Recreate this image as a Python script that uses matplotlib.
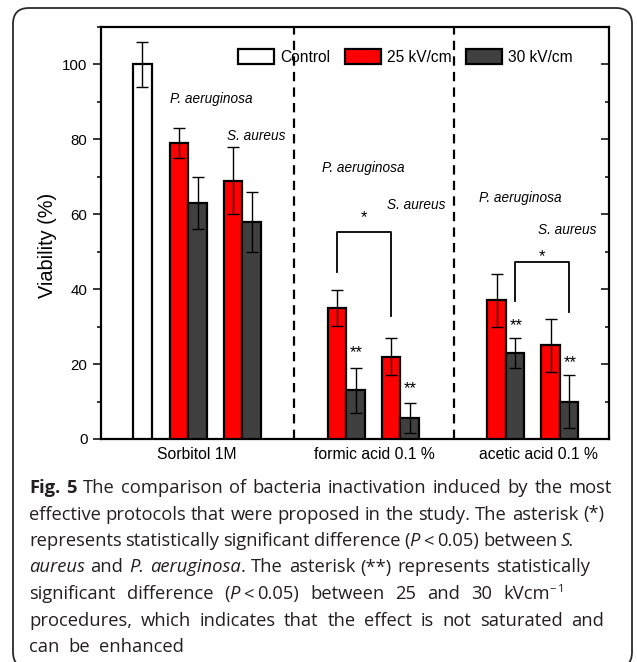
import matplotlib
matplotlib.use("Agg")
import matplotlib.pyplot as plt
from matplotlib.patches import Patch, FancyBboxPatch
from matplotlib.ticker import MultipleLocator
from matplotlib.transforms import IdentityTransform

# ---------------- data ----------------
categories = ["Sorbitol 1M", "formic acid 0.1 %", "acetic acid 0.1 %"]
control_value = [100]
control_err = [6]
pa_25 = [79, 35, 37]
pa_25_err = [4, 4.8, 7]
pa_30 = [63, 13, 23]
pa_30_err = [7, 6, 4]
sa_25 = [69, 22, 25]
sa_25_err = [9, 5, 7]
sa_30 = [58, 5.5, 10]
sa_30_err = [8, 4, 7]
legend_labels = ["Control", "25 kV/cm", "30 kV/cm"]
species = ["P. aeruginosa", "S. aureus"]
y_ticks = [0, 20, 40, 60, 80, 100]

# ---------------- style ----------------
W, H = 637, 662
plt.rcParams["font.family"] = ["Liberation Sans", "DejaVu Sans"]
RED = "#ff0000"
DARK = "#404040"

fig = plt.figure(figsize=(W / 100, H / 100), dpi=100)
fig.patch.set_facecolor("white")

# frame around the whole figure (rounded box)
frame = FancyBboxPatch((13, -6), 619, H - 8 + 6, boxstyle="round,pad=0,rounding_size=16",
                       transform=IdentityTransform(), facecolor="none", edgecolor="#2a2a2a",
                       linewidth=1.3, zorder=0)
fig.patches.append(frame)

ax_l, ax_r, ax_t, ax_b = 101, 609, 27, 439
ax = fig.add_axes([ax_l / W, 1 - ax_b / H, (ax_r - ax_l) / W, (ax_b - ax_t) / H])

bw = 1.0
xmax = (ax_r - ax_l) / 18.5
ax.set_xlim(0, xmax)
ax.set_ylim(0, 110)

ctrl_x = [2.24]
pa_red_x = [4.22, 12.76, 21.38]
pair_gap = 2.92
pa_dark_x = [x + bw for x in pa_red_x]
sa_red_x = [x + pair_gap for x in pa_red_x]
sa_dark_x = [x + bw for x in sa_red_x]
cat_x = [5.19, 14.76, 23.62]
sep_x = [10.43, 19.08]

bar_kw = dict(width=bw, edgecolor="black", linewidth=1.6, zorder=3)
err_kw = dict(ecolor="black", elinewidth=1.0, capsize=4.2, capthick=1.0)

ax.bar(ctrl_x, control_value, color="white", yerr=control_err, error_kw=err_kw, label=legend_labels[0], **bar_kw)
ax.bar(pa_red_x, pa_25, color=RED, yerr=pa_25_err, error_kw=err_kw, label=legend_labels[1], **bar_kw)
ax.bar(pa_dark_x, pa_30, color=DARK, yerr=pa_30_err, error_kw=err_kw, label=legend_labels[2], **bar_kw)
ax.bar(sa_red_x, sa_25, color=RED, yerr=sa_25_err, error_kw=err_kw, **bar_kw)
ax.bar(sa_dark_x, sa_30, color=DARK, yerr=sa_30_err, error_kw=err_kw, **bar_kw)

for sx in sep_x:
    ax.axvline(sx, color="black", linewidth=1.6, linestyle=(0, (4.2, 2.8)), zorder=2)

# spines & ticks
for s in ax.spines.values():
    s.set_linewidth(1.6)
ax.set_xticks(cat_x)
ax.set_xticklabels(categories, fontsize=11.3)
ax.tick_params(axis="x", length=0, pad=6)
ax.set_yticks(y_ticks)
ax.yaxis.set_minor_locator(MultipleLocator(10))
ax.tick_params(axis="y", which="major", direction="out", length=5.8, width=1.1, labelsize=10.8, pad=4)
ax.tick_params(axis="y", which="minor", direction="out", length=3, width=1.1)

ax2 = ax.twinx()
ax2.set_ylim(ax.get_ylim())
ax2.set_yticks(y_ticks)
ax2.yaxis.set_minor_locator(MultipleLocator(10))
ax2.tick_params(axis="y", which="major", direction="in", length=5.8, width=1.1, labelright=False)
ax2.tick_params(axis="y", which="minor", direction="in", length=3, width=1.1)
for s in ax2.spines.values():
    s.set_visible(False)

ax.set_ylabel("Viability (%)", fontsize=14.3)
ax.yaxis.set_label_coords((57 - ax_l) / (ax_r - ax_l), (ax_b - 245) / (ax_b - ax_t))

# legend
handles = [Patch(facecolor=c, edgecolor="black", linewidth=1.6) for c in ["white", RED, DARK]]
ax.legend(handles, legend_labels, loc="center left",
          bbox_to_anchor=((238 - ax_l) / (ax_r - ax_l), (ax_b - 57) / (ax_b - ax_t)),
          ncol=3, frameon=False, fontsize=11.2, borderpad=0, borderaxespad=0,
          handlelength=2.3, handleheight=1.15, handletextpad=0.4, columnspacing=0.95)

# species annotations
sp_pos_pa = [(5.95, 90.7), (14.16, 72.3), (22.65, 64.3)]
sp_pos_sa = [(8.4, 81.0), (17.03, 62.4), (25.19, 55.7)]
for (x, y) in sp_pos_pa:
    ax.text(x, y, species[0], style="italic", fontsize=9.8, ha="center", va="center")
for (x, y) in sp_pos_sa:
    ax.text(x, y, species[1], style="italic", fontsize=9.8, ha="center", va="center")

# significance brackets
def bracket(x1, x2, y1, y2, ytop, ystar):
    ax.plot([x1, x1, x2, x2], [y1, ytop, ytop, y2], color="black", linewidth=1.3, zorder=4)
    ax.text((x1 + x2) / 2, ystar, "*", ha="center", va="baseline", fontsize=12)

bracket(pa_red_x[1], sa_red_x[1], 44.5, 32.8, 55.2, 58.0)
bracket(pa_dark_x[2], sa_dark_x[2], 36.8, 33.8, 47.3, 47.6)

dstar = [(pa_dark_x[1], 21.8), (sa_dark_x[1], 12.2), (pa_dark_x[2], 29.2), (sa_dark_x[2], 19.1)]
for x, y in dstar:
    ax.text(x + 0.05, y, "**", ha="center", va="baseline", fontsize=12)

# ---------------- caption (justified) ----------------
CAP_FONT = ["Open Sans", "DejaVu Sans"]
cap_color = "#231f20"
cap_size = 13.2
N, I, B, S = "n", "i", "b", "sup"

def G(px):
    return ("", ("gap", px))

cap_lines = [
    ([[("Fig.", B)], [("5", B)], "The", "comparison", "of", "bacteria", "inactivation", "induced", "by", "the", "most"], 29, 612, 493),
    (["effective", "protocols", "that", "were", "proposed", "in", "the", "study.", "The", "asterisk", "(*)"], 29, 604, 519.5),
    (["represents", "statistically", "significant", "difference",
      [("(", N), ("P", I), G(3), ("<", N), G(4), ("0.05)", N)], "between", [("S.", I)]], 29, 575, 546),
    ([[("aureus", I)], "and", [("P.", I)], [("aeruginosa", I), (".", N)], "The", "asterisk", "(**)", "represents", "statistically"], 29, 590, 572.5),
    (["significant", "difference", [("(", N), ("P", I), G(3), ("<", N), G(4), ("0.05)", N)], "between", "25", "and", "30",
      [("kVcm", N), ("\u2212", S), G(2), ("1", S)]], 29, 565, 599),
    (["procedures,", "which", "indicates", "that", "the", "effect", "is", "not", "saturated", "and"], 29, 604, 625.5),
    (["can", "be", "enhanced"], 29, 184, 652),
]

renderer = fig.canvas.get_renderer()

def make_run(text, style, size):
    kw = dict(family=CAP_FONT, color=cap_color, fontsize=size, va="baseline", ha="left",
              transform=IdentityTransform())
    if style == I:
        kw["style"] = "italic"
    if style == B:
        kw["weight"] = "bold"
    if style == S:
        kw["fontsize"] = size * 0.62
    return fig.text(0, 0, text, **kw)

def build_word(word, size):
    if isinstance(word, str):
        word = [(word, N)]
    items = []
    total = 0
    for text, style in word:
        if isinstance(style, tuple):
            items.append((None, total, style[1]))
            total += style[1]
            continue
        t = make_run(text, style, size)
        w = t.get_window_extent(renderer).width
        items.append((t, total, style))
        total += w
    return items, total

for words, left, right, base in cap_lines:
    built = [build_word(w, cap_size) for w in words]
    total_w = sum(b[1] for b in built)
    n = len(built)
    gap = (right - left - total_w) / (n - 1) if n > 1 else 0
    gap = max(gap, 3.0)
    x = left
    ybase = H - base
    for items, wtot in built:
        for t, off, style in items:
            if t is None:
                continue
            dy = 7.5 if style == S else 0
            t.set_position((x + off, ybase + dy))
        x += wtot + gap

fig.savefig("out.png", dpi=100, facecolor="white")
